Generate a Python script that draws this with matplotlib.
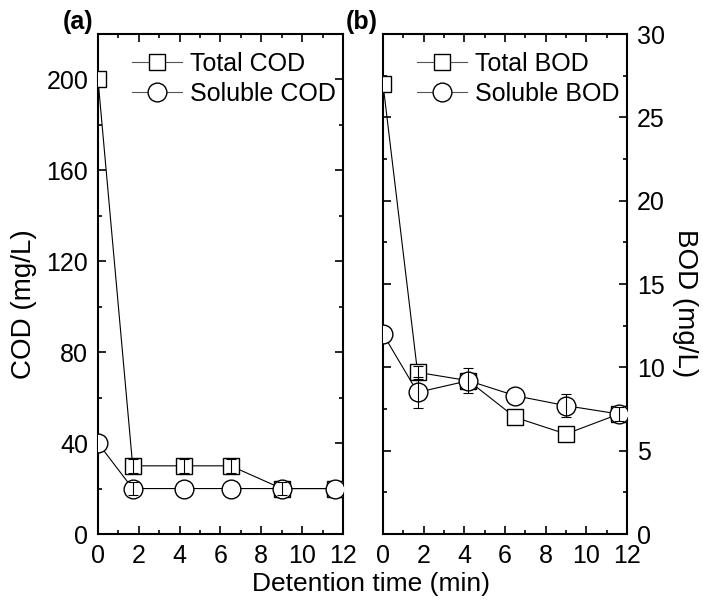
import matplotlib.pyplot as plt
from matplotlib.ticker import MultipleLocator

plt.rcParams['font.family'] = ['Liberation Sans', 'DejaVu Sans']

# detention time (min)
time = [0, 1.7, 4.2, 6.5, 9.0, 11.6]

total_cod = [200, 30, 30, 30, 20, 20]
total_cod_err = [0, 3, 3, 3, 3, 0]
soluble_cod = [40, 20, 20, 20, 20, 20]
soluble_cod_err = [0, 3, 0, 0, 0, 0]

total_bod = [27.0, 9.7, 9.2, 7.0, 6.0, 7.2]
total_bod_err = [0, 0.4, 0, 0, 0, 0]
soluble_bod = [12.0, 8.5, 9.2, 8.3, 7.7, 7.2]
soluble_bod_err = [0, 0.95, 0.75, 0, 0.7, 0.4]

fs = 18

fig = plt.figure(figsize=(7.03, 6.03), dpi=100)
ax1 = fig.add_axes([0.1394, 0.1144, 0.3485, 0.8292])
ax2 = fig.add_axes([0.5448, 0.1144, 0.3471, 0.8292])


def errbars(ax, y, err):
    # only points that carry a measured spread
    xs = [t for t, e in zip(time, err) if e > 0]
    ys = [v for v, e in zip(y, err) if e > 0]
    es = [e for e in err if e > 0]
    ax.errorbar(xs, ys, yerr=es, fmt='none', ecolor='black',
                elinewidth=0.8, capsize=3.5, capthick=0.8, zorder=5)


def draw(ax, tot, tot_err, sol, sol_err, names):
    ax.plot(time, tot, color='black', lw=0.8, marker='s', ms=11.5,
            mfc='white', mec='black', mew=1.0, label=names[0], zorder=3)
    ax.plot(time, sol, color='black', lw=0.8, marker='o', ms=13.5,
            mfc='white', mec='black', mew=1.0, label=names[1], zorder=4)
    errbars(ax, tot, tot_err)
    errbars(ax, sol, sol_err)
    ax.set_xlim(0, 12)
    ax.xaxis.set_major_locator(MultipleLocator(2))
    ax.xaxis.set_minor_locator(MultipleLocator(1))
    ax.tick_params(which='both', direction='in', top=True, right=True,
                   left=True, labelsize=fs, width=1.2, pad=7)
    ax.tick_params(which='major', length=6)
    ax.tick_params(which='minor', length=3)
    for sp in ax.spines.values():
        sp.set_linewidth(1.5)
    leg = ax.legend(loc='upper left', bbox_to_anchor=(0.1, 0.985), frameon=False,
                    fontsize=fs, handlelength=2.0, handletextpad=0.3,
                    labelspacing=0.25, borderaxespad=0)
    for h in leg.legend_handles:
        h.set_color('#555555')
        h.set_markeredgecolor('black')


draw(ax1, total_cod, total_cod_err, soluble_cod, soluble_cod_err,
     ['Total COD', 'Soluble COD'])
ax1.set_ylim(0, 220)
ax1.yaxis.set_major_locator(MultipleLocator(40))
ax1.yaxis.set_minor_locator(MultipleLocator(20))

draw(ax2, total_bod, total_bod_err, soluble_bod, soluble_bod_err,
     ['Total BOD', 'Soluble BOD'])
ax2.set_ylim(0, 30)
ax2.yaxis.set_major_locator(MultipleLocator(5))
ax2.yaxis.set_minor_locator(MultipleLocator(2.5))
ax2.yaxis.tick_right()
ax2.tick_params(which='both', left=True, labelleft=False, labelright=True)

fig.text(24 / 703, 1 - 304 / 603, 'COD (mg/L)', rotation=90, ha='center',
         va='center', fontsize=fs + 2)
fig.text(685 / 703, 1 - 303 / 603, 'BOD (mg/L)', rotation=270, ha='center',
         va='center', fontsize=fs + 2)

ax1.text(-0.02, 1.0, '(a)', transform=ax1.transAxes, ha='right', va='bottom',
         fontsize=fs, fontweight='bold')
ax2.text(-0.02, 1.0, '(b)', transform=ax2.transAxes, ha='right', va='bottom',
         fontsize=fs, fontweight='bold')

fig.text(371 / 703, 1 - 584 / 603, 'Detention time (min)', ha='center',
         va='center', fontsize=fs + 1)

fig.savefig('out.png', dpi=100)
